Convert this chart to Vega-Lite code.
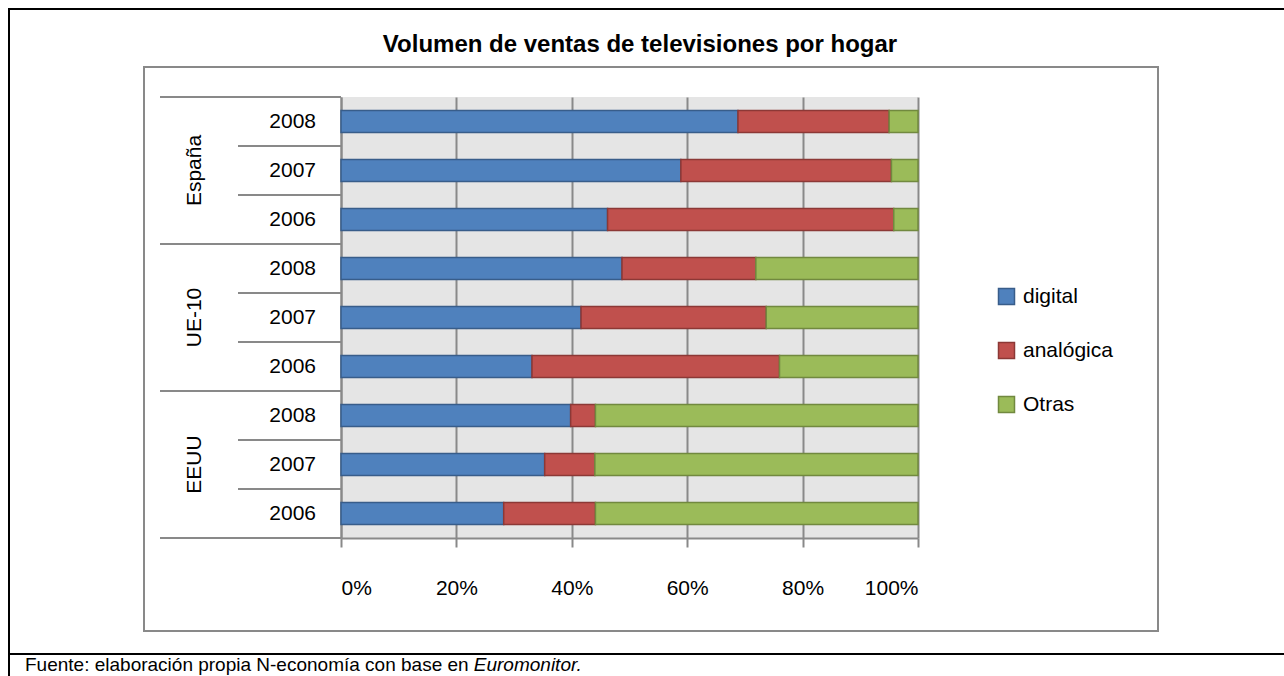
{
  "$schema": "https://vega.github.io/schema/vega-lite/v6.json",
  "width": 577,
  "height": 441,
  "autosize": "none",
  "padding": {"left": 341, "top": 97, "right": 366, "bottom": 138},
  "background": "white",
  "config": {
    "font": "Liberation Sans",
    "view": {"fill": "#e5e5e5", "stroke": null}
  },
  "layer": [
    {
      "data": {"values": [
        {"fila": "España 2008", "tipo": "digital", "valor": 0.688},
        {"fila": "España 2008", "tipo": "analógica", "valor": 0.262},
        {"fila": "España 2008", "tipo": "Otras", "valor": 0.050},
        {"fila": "España 2007", "tipo": "digital", "valor": 0.589},
        {"fila": "España 2007", "tipo": "analógica", "valor": 0.365},
        {"fila": "España 2007", "tipo": "Otras", "valor": 0.046},
        {"fila": "España 2006", "tipo": "digital", "valor": 0.462},
        {"fila": "España 2006", "tipo": "analógica", "valor": 0.496},
        {"fila": "España 2006", "tipo": "Otras", "valor": 0.042},
        {"fila": "UE-10 2008", "tipo": "digital", "valor": 0.487},
        {"fila": "UE-10 2008", "tipo": "analógica", "valor": 0.232},
        {"fila": "UE-10 2008", "tipo": "Otras", "valor": 0.281},
        {"fila": "UE-10 2007", "tipo": "digital", "valor": 0.416},
        {"fila": "UE-10 2007", "tipo": "analógica", "valor": 0.321},
        {"fila": "UE-10 2007", "tipo": "Otras", "valor": 0.263},
        {"fila": "UE-10 2006", "tipo": "digital", "valor": 0.331},
        {"fila": "UE-10 2006", "tipo": "analógica", "valor": 0.429},
        {"fila": "UE-10 2006", "tipo": "Otras", "valor": 0.240},
        {"fila": "EEUU 2008", "tipo": "digital", "valor": 0.398},
        {"fila": "EEUU 2008", "tipo": "analógica", "valor": 0.043},
        {"fila": "EEUU 2008", "tipo": "Otras", "valor": 0.559},
        {"fila": "EEUU 2007", "tipo": "digital", "valor": 0.353},
        {"fila": "EEUU 2007", "tipo": "analógica", "valor": 0.087},
        {"fila": "EEUU 2007", "tipo": "Otras", "valor": 0.560},
        {"fila": "EEUU 2006", "tipo": "digital", "valor": 0.282},
        {"fila": "EEUU 2006", "tipo": "analógica", "valor": 0.159},
        {"fila": "EEUU 2006", "tipo": "Otras", "valor": 0.559}
      ]},
      "mark": {"type": "bar", "height": 22, "strokeWidth": 1.5},
      "encoding": {
        "y": {
          "field": "fila",
          "type": "nominal",
          "sort": null,
          "scale": {"domain": ["España 2008", "España 2007", "España 2006", "UE-10 2008", "UE-10 2007", "UE-10 2006", "EEUU 2008", "EEUU 2007", "EEUU 2006"], "paddingInner": 0, "paddingOuter": 0},
          "axis": {"title": null, "labels": false, "ticks": false, "grid": false, "domainColor": "#898989", "domainWidth": 2}
        },
        "x": {
          "field": "valor",
          "type": "quantitative",
          "stack": "zero",
          "scale": {"domain": [0, 1], "nice": false},
          "axis": {
            "title": null,
            "values": [0, 0.2, 0.4, 0.6, 0.8, 1],
            "format": ".0%",
            "grid": true,
            "gridColor": "#898989",
            "gridWidth": 2,
            "tickSize": 9,
            "tickColor": "#898989",
            "tickWidth": 2,
            "domainColor": "#898989",
            "domainWidth": 2,
            "labelFont": "Liberation Sans",
            "labelFontSize": 21,
            "labelColor": "black",
            "labelPadding": 30
          }
        },
        "order": {"field": "tipo", "sort": "descending"},
        "fill": {
          "field": "tipo",
          "type": "nominal",
          "scale": {"domain": ["digital", "analógica", "Otras"], "range": ["#4f81bd", "#c0504d", "#9bbb59"]},
          "legend": {
            "orient": "none",
            "legendX": 655,
            "legendY": 189,
            "title": null,
            "labelFont": "Liberation Sans",
            "labelFontSize": 21,
            "labelColor": "black",
            "labelOffset": 6,
            "symbolType": "square",
            "symbolSize": 256,
            "symbolStrokeWidth": 1.5,
            "rowPadding": 31
          }
        },
        "stroke": {
          "field": "tipo",
          "type": "nominal",
          "scale": {"domain": ["digital", "analógica", "Otras"], "range": ["#385d8a", "#8c3836", "#71893f"]},
          "legend": {
            "orient": "none",
            "legendX": 655,
            "legendY": 189,
            "title": null,
            "labelFont": "Liberation Sans",
            "labelFontSize": 21,
            "labelColor": "black",
            "labelOffset": 6,
            "symbolType": "square",
            "symbolSize": 256,
            "symbolStrokeWidth": 1.5,
            "rowPadding": 31
          }
        }
      }
    },
    {
      "data": {"values": [
        {"fila": "España 2008", "anio": "2008"}, {"fila": "España 2007", "anio": "2007"}, {"fila": "España 2006", "anio": "2006"},
        {"fila": "UE-10 2008", "anio": "2008"}, {"fila": "UE-10 2007", "anio": "2007"}, {"fila": "UE-10 2006", "anio": "2006"},
        {"fila": "EEUU 2008", "anio": "2008"}, {"fila": "EEUU 2007", "anio": "2007"}, {"fila": "EEUU 2006", "anio": "2006"}
      ]},
      "layer": [
        {
          "mark": {"type": "text", "xOffset": -25, "align": "right", "baseline": "middle", "font": "Liberation Sans", "fontSize": 21, "color": "black"},
          "encoding": {
            "x": {"datum": 0, "type": "quantitative"},
            "y": {"field": "fila", "type": "nominal"},
            "text": {"field": "anio"}
          }
        },
        {
          "mark": {"type": "rule", "stroke": "#898989", "strokeWidth": 2, "yOffset": -24.5, "xOffset": -103},
          "encoding": {
            "x": {"datum": 0, "type": "quantitative"},
            "x2": {"datum": 0},
            "y": {"field": "fila", "type": "nominal"}
          }
        }
      ]
    },
    {
      "data": {"values": [
        {"pais": "España", "primera": "España 2008", "central": "España 2007"},
        {"pais": "UE-10", "primera": "UE-10 2008", "central": "UE-10 2007"},
        {"pais": "EEUU", "primera": "EEUU 2008", "central": "EEUU 2007"}
      ]},
      "layer": [
        {
          "mark": {"type": "rule", "stroke": "#898989", "strokeWidth": 2, "yOffset": -24.5, "xOffset": -181},
          "encoding": {
            "x": {"datum": 0, "type": "quantitative"},
            "x2": {"datum": 0},
            "y": {"field": "primera", "type": "nominal"}
          }
        },
        {
          "mark": {"type": "text", "angle": 270, "xOffset": -146, "align": "center", "baseline": "middle", "font": "Liberation Sans", "fontSize": 21, "color": "black"},
          "encoding": {
            "x": {"datum": 0, "type": "quantitative"},
            "y": {"field": "central", "type": "nominal"},
            "text": {"field": "pais"}
          }
        }
      ]
    },
    {
      "data": {"values": [{"ultima": "EEUU 2006"}]},
      "mark": {"type": "rule", "stroke": "#898989", "strokeWidth": 2, "yOffset": 24.5, "xOffset": -181},
      "encoding": {
        "x": {"datum": 0, "type": "quantitative"},
        "x2": {"datum": 0},
        "y": {"field": "ultima", "type": "nominal"}
      }
    },
    {
      "data": {"values": [{"primera": "España 2008", "titulo": "Volumen de ventas de televisiones por hogar"}]},
      "mark": {"type": "text", "xOffset": 10.5, "yOffset": -69.5, "align": "center", "baseline": "alphabetic", "font": "Liberation Sans", "fontSize": 24, "fontWeight": "bold", "color": "black"},
      "encoding": {
        "x": {"datum": 0.5, "type": "quantitative"},
        "y": {"field": "primera", "type": "nominal"},
        "text": {"field": "titulo"}
      }
    },
    {
      "data": {"values": [{"ultima": "EEUU 2006", "fuente": "Fuente: elaboración propia N-economía con base en", "obra": "Euromonitor."}]},
      "layer": [
        {
          "mark": {"type": "text", "xOffset": -316, "yOffset": 157.5, "align": "left", "baseline": "alphabetic", "font": "Liberation Sans", "fontSize": 19, "color": "black"},
          "encoding": {
            "x": {"datum": 0, "type": "quantitative"},
            "y": {"field": "ultima", "type": "nominal"},
            "text": {"field": "fuente"}
          }
        },
        {
          "mark": {"type": "text", "xOffset": 132.8, "yOffset": 157.5, "align": "left", "baseline": "alphabetic", "font": "Liberation Sans", "fontSize": 19, "fontStyle": "italic", "color": "black"},
          "encoding": {
            "x": {"datum": 0, "type": "quantitative"},
            "y": {"field": "ultima", "type": "nominal"},
            "text": {"field": "obra"}
          }
        }
      ]
    },
    {
      "data": {"values": [{"elemento": "marco"}]},
      "layer": [
        {
          "mark": {"type": "rect", "fillOpacity": 0, "stroke": "#898989", "strokeWidth": 2},
          "encoding": {"x": {"value": -197}, "x2": {"value": 817}, "y": {"value": -30}, "y2": {"value": 534}}
        },
        {
          "mark": {"type": "rect", "fillOpacity": 0, "stroke": "black", "strokeWidth": 2},
          "encoding": {"x": {"value": -332}, "x2": {"value": 950}, "y": {"value": -88}, "y2": {"value": 557}}
        },
        {
          "mark": {"type": "rule", "stroke": "black", "strokeWidth": 2},
          "encoding": {"x": {"value": -332}, "y": {"value": 557}, "y2": {"value": 590}}
        }
      ]
    }
  ]
}
